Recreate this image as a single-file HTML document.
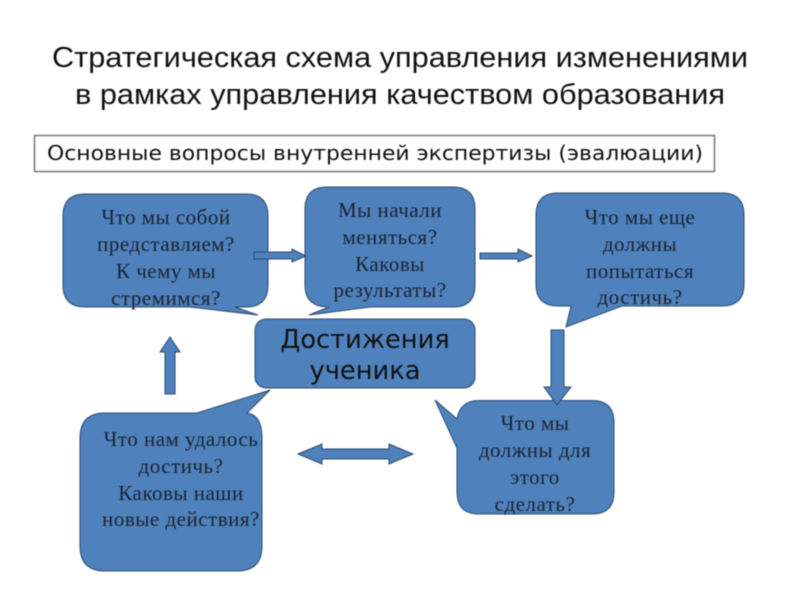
<!DOCTYPE html>
<html lang="ru"><head><meta charset="utf-8"><title>Схема</title>
<style>html,body{margin:0;padding:0;background:#fff;width:800px;height:600px;overflow:hidden}svg{display:block}
.s{font-family:"Liberation Serif",serif;font-size:21px;letter-spacing:.5px;fill:#1a2330;text-anchor:middle}
.t{font-family:"Liberation Sans",sans-serif;font-size:29px;fill:#111;text-anchor:middle}
.d{font-family:"DejaVu Sans",sans-serif;fill:#111}
.b{fill:#4f81bd;stroke:#2c4a6e;stroke-width:1}
</style></head><body>
<svg width="800" height="600" viewBox="0 0 800 600" xmlns="http://www.w3.org/2000/svg">
<g style="filter:blur(.45px)">
<text class="t" x="400" y="67" textLength="696" lengthAdjust="spacingAndGlyphs">Стратегическая схема управления изменениями</text>
<text class="t" x="400" y="104" textLength="650" lengthAdjust="spacingAndGlyphs">в рамках управления качеством образования</text>
<rect x="34.5" y="135.5" width="680" height="36" fill="#fff" stroke="#777" stroke-width="1.5"/>
<text class="d" x="47" y="160" font-size="20" textLength="656" lengthAdjust="spacingAndGlyphs">Основные вопросы внутренней экспертизы (эвалюации)</text>

<path class="b" d="M85 194H246Q268 194 268 216V285Q268 307 246 307H235L258 315L190 307H85Q63 307 63 285V216Q63 194 85 194Z"/>
<path class="b" d="M327 187H453Q475 187 475 209V285Q475 307 453 307H370L309 315L329 307Q305 307 305 285V209Q305 187 327 187Z"/>
<path class="b" d="M558 193H722Q744 193 744 215V284Q744 306 722 306H622L566 327L571 306H558Q536 306 536 284V215Q536 193 558 193Z"/>
<rect class="b" x="255" y="319" width="220" height="69" rx="11"/>
<path class="b" d="M105 413H197L270 390L247 413Q262 415 262 438V546Q262 571 237 571H105Q80 571 80 546V438Q80 413 105 413Z"/>
<path class="b" d="M479 400.500H592Q614 400.500 614 423V492Q614 514 592 514H479Q457 514 457 492V448L435 400L457 419Q460 400.500 479 400.500Z"/>

<path class="b" d="M170 337L180 352H175V394H165V352H160Z"/>
<path class="b" d="M254 252H292V249L306 256L292 262V259H254Z"/>
<path class="b" d="M480 253H518V249L532 256L518 262V259H480Z"/>
<path class="b" d="M551 330H564V387H571L557 405L544 387H551Z"/>
<path class="b" d="M298 454L322 444V449H389V444L413 454L389 464V459H322V464Z"/>

<g class="s">
<text class="s" x="166" y="224">Что мы собой</text><text class="s" x="166" y="251">представляем?</text><text class="s" x="166" y="278">К чему мы</text><text class="s" x="166" y="305">стремимся?</text>
<text class="s" x="390" y="217">Мы начали</text><text class="s" x="390" y="244">меняться?</text><text class="s" x="390" y="271">Каковы</text><text class="s" x="390" y="297">результаты?</text>
<text class="s" x="640" y="224">Что мы еще</text><text class="s" x="640" y="251">должны</text><text class="s" x="640" y="278">попытаться</text><text class="s" x="640" y="304">достичь?</text>
<text class="s" x="181" y="446">Что нам удалось</text><text class="s" x="181" y="473">достичь?</text><text class="s" x="181" y="500">Каковы наши</text><text class="s" x="181" y="526">новые действия?</text>
<text class="s" x="535" y="430">Что мы</text><text class="s" x="535" y="457">должны для</text><text class="s" x="535" y="484">этого</text><text class="s" x="535" y="511">сделать?</text>
</g>
<text class="d" x="365" y="348" font-size="25.700" text-anchor="middle">Достижения</text>
<text class="d" x="365" y="379" font-size="25.700" text-anchor="middle">ученика</text>
</g>
</svg>
</body></html>
